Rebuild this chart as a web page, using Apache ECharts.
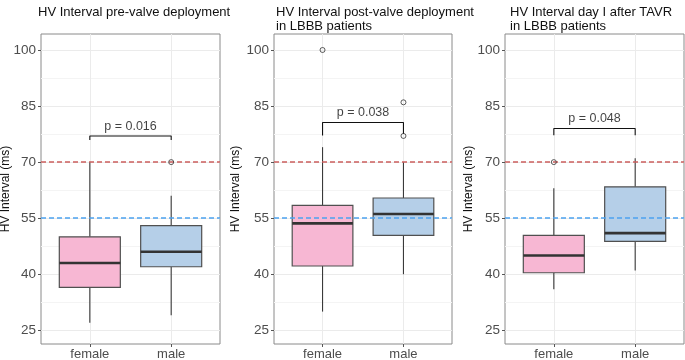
<!DOCTYPE html>
<html>
<head>
<meta charset="utf-8">
<script src="https://cdn.jsdelivr.net/npm/echarts@6/dist/echarts.min.js"></script>
<style>
  html, body { margin: 0; padding: 0; background: #fff; }
  #chart { width: 685px; height: 360px; }
</style>
</head>
<body>
<div id="chart"></div>
<script>
// data
var categories = ['female', 'male'];
var yTicks = [25, 40, 55, 70, 85, 100];
var yMinor = [32.5, 47.5, 62.5, 77.5, 92.5];
var titles = [
  'HV Interval pre-valve deployment',
  'HV Interval post-valve deployment\nin LBBB patients',
  'HV Interval day I after TAVR\nin LBBB patients'
];
// [min, Q1, median, Q3, max] for female, male
var preValve = [[27, 36.5, 43, 50, 70], [29, 42, 46, 53, 61]];
var postValve = [[30, 42.2, 53.6, 58.4, 74], [40, 50.4, 56.1, 60.4, 70]];
var dayOne = [[36, 40.4, 45, 50.4, 63], [41, 48.8, 51, 63.4, 71]];
var preOutliers = [['male', 70]];
var postOutliers = [['female', 100], ['male', 86], ['male', 77]];
var dayOneOutliers = [['female', 70]];
var pValues = ['p = 0.016', 'p = 0.038', 'p = 0.048'];
var bracketTop = [77.0, 80.6, 79.0];
var bracketLegs = [[75.9, 75.9], [77.1, 77.6], [77.2, 77.2]];
var thresholds = [70, 55];

var boxColors = ['#F7B7D3', '#B5CFE8'];
var lineColors = ['#CB5F5E', '#4CA2EF'];
var panels = [
  { left: 41, width: 179, title: 33, nameGap: 29, box: preValve, out: preOutliers },
  { left: 274, width: 178, title: 271, nameGap: 32, box: postValve, out: postOutliers },
  { left: 505, width: 179, title: 505, nameGap: 30, box: dayOne, out: dayOneOutliers }
];
var yMin = 21.33, yMax = 104.28;

function renderBox(params, api) {
  var x = api.value(0);
  var lo = api.coord([x, api.value(1)]);
  var q1 = api.coord([x, api.value(2)]);
  var med = api.coord([x, api.value(3)]);
  var q3 = api.coord([x, api.value(4)]);
  var hi = api.coord([x, api.value(5)]);
  var half = api.size([0.75, 0])[0] / 2;
  var dark = '#3a3a3a';
  return {
    type: 'group',
    children: [
      { type: 'line', shape: { x1: lo[0], y1: lo[1], x2: q1[0], y2: q1[1] }, style: { stroke: dark, lineWidth: 1.1 } },
      { type: 'line', shape: { x1: q3[0], y1: q3[1], x2: hi[0], y2: hi[1] }, style: { stroke: dark, lineWidth: 1.1 } },
      { type: 'rect', shape: { x: q3[0] - half, y: q3[1], width: half * 2, height: q1[1] - q3[1] },
        style: { fill: boxColors[params.dataIndex], stroke: '#505050', lineWidth: 1.2 } },
      { type: 'line', shape: { x1: med[0] - half, y1: med[1], x2: med[0] + half, y2: med[1] }, style: { stroke: '#333', lineWidth: 2.6 } }
    ]
  };
}

var option = {
  animation: false,
  title: [], grid: [], xAxis: [], yAxis: [], series: []
};

panels.forEach(function (p, i) {
  option.title.push({
    text: titles[i], left: p.title, top: 0,
    textStyle: { fontSize: 13, fontWeight: 'normal', color: '#111', lineHeight: 14, fontFamily: 'Liberation Sans' }
  });
  option.grid.push({
    left: p.left, width: p.width, top: 34, height: 310,
    outerBoundsMode: 'none', containLabel: false,
    show: true, borderColor: '#8a8a8a', borderWidth: 1, backgroundColor: '#fff'
  });
  option.xAxis.push({
    type: 'value', gridIndex: i, min: 0.4, max: 2.6,
    axisLine: { show: false },
    axisTick: { show: true, length: 3, lineStyle: { color: '#555' }, customValues: [1, 2] },
    axisLabel: {
      customValues: [1, 2], margin: 4, fontSize: 13, color: '#4d4d4d', fontFamily: 'Liberation Sans',
      formatter: function (v) { return categories[Math.round(v) - 1]; }
    },
    splitLine: { show: true, lineStyle: { color: '#ebebeb', width: 1 } }
  });
  // major y axis
  option.yAxis.push({
    type: 'value', gridIndex: i, min: yMin, max: yMax,
    name: 'HV Interval (ms)', nameLocation: 'middle', nameGap: p.nameGap, nameMoveOverlap: false,
    nameTextStyle: { fontSize: 12, color: '#111', fontFamily: 'Liberation Sans' },
    axisLine: { show: false },
    axisTick: { show: true, length: 3, lineStyle: { color: '#555' }, customValues: yTicks },
    axisLabel: { customValues: yTicks, margin: 5, fontSize: 13.5, color: '#4d4d4d', fontFamily: 'Liberation Sans' },
    splitLine: { show: true, lineStyle: { color: '#ebebeb', width: 1 } }
  });
  // minor grid lines
  option.yAxis.push({
    type: 'value', gridIndex: i, min: yMin, max: yMax, position: 'left',
    axisLine: { show: false },
    axisTick: { show: false, customValues: yMinor },
    axisLabel: { show: false, customValues: yMinor },
    splitLine: { show: true, lineStyle: { color: '#f4f4f4', width: 1 } }
  });

  option.series.push({
    type: 'custom', xAxisIndex: i, yAxisIndex: 2 * i, z: 2,
    renderItem: renderBox,
    encode: { x: 0, y: [1, 2, 3, 4, 5] },
    data: p.box.map(function (b, k) { return [k + 1].concat(b); })
  });
  option.series.push({
    type: 'scatter', xAxisIndex: i, yAxisIndex: 2 * i, z: 4,
    symbol: 'circle', symbolSize: 5,
    itemStyle: { color: 'rgba(0,0,0,0)', borderColor: '#333', borderWidth: 1 },
    data: p.out.map(function (o) { return [categories.indexOf(o[0]) + 1, o[1]]; }),
    markLine: {
      silent: true, symbol: 'none', z: 3,
      label: { show: false },
      data: thresholds.map(function (t, k) {
        return { yAxis: t, lineStyle: { color: lineColors[k], type: [5, 3], width: 1.5 } };
      })
    }
  });
  option.series.push({
    type: 'line', xAxisIndex: i, yAxisIndex: 2 * i, z: 5,
    symbol: 'none', lineStyle: { color: '#111', width: 1.1 },
    data: [[1, bracketLegs[i][0]], [1, bracketTop[i]], [2, bracketTop[i]], [2, bracketLegs[i][1]]]
  });
  option.series.push({
    type: 'scatter', xAxisIndex: i, yAxisIndex: 2 * i, z: 5,
    symbolSize: 0,
    label: {
      show: true, position: 'top', distance: 3, fontSize: 12.5, color: '#111', fontFamily: 'Liberation Sans',
      formatter: function (d) { return d.name; }
    },
    data: [{ name: pValues[i], value: [1.5, bracketTop[i]] }]
  });
});

var chart = echarts.init(document.getElementById('chart'));
chart.setOption(option);
</script>
</body>
</html>
